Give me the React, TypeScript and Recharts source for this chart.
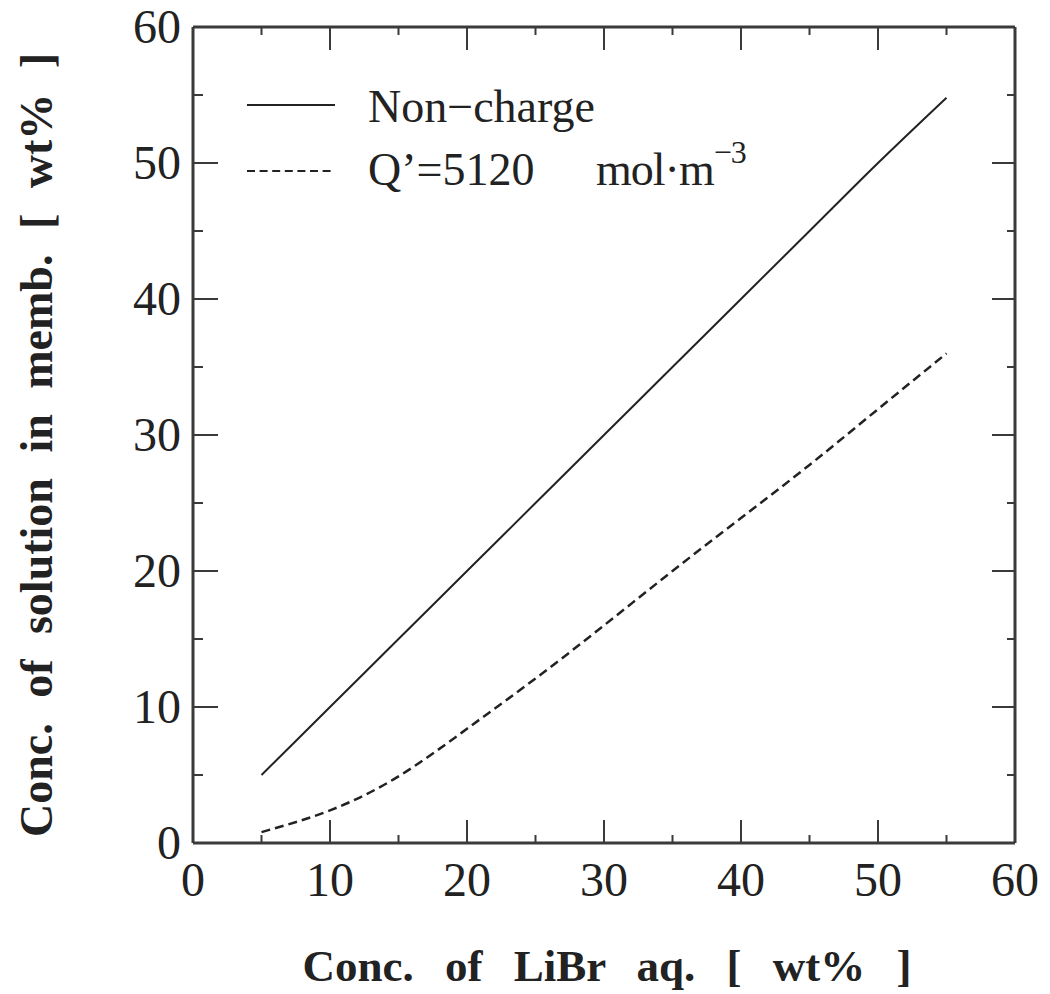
import { Legend, Line, LineChart, XAxis, YAxis } from "recharts";

const INK = "#222";
const FRAME = "#3a3a3a";
const FONT = "Liberation Serif, DejaVu Serif, serif";

// LiBr concentration in the bulk solution [wt%]
const CONC_LIBR = [5, 10, 15, 20, 25, 30, 35, 40, 45, 50, 55];
// concentration inside the membrane [wt%]
const NON_CHARGE = [5, 10, 15, 20, 25, 30, 35, 40, 45, 50, 54.8];
const CHARGED = [0.8, 2.4, 4.9, 8.4, 12.1, 16.0, 20.0, 23.9, 27.8, 31.9, 36.0];

const TICKS = [0, 5, 10, 15, 20, 25, 30, 35, 40, 45, 50, 55, 60];
const X_LABEL = "Conc. of LiBr aq. [ wt% ]";
const Y_LABEL = "Conc. of solution in memb. [ wt% ]";
const SERIES = ["Non−charge", "Q’=5120", "mol·m", "−3"];

const data = CONC_LIBR.map((c, i) => ({
  c,
  nonCharge: NON_CHARGE[i],
  charged: CHARGED[i],
}));

const MAJOR = 23;
const MINOR = 8;
const isMajor = (v: number) => v % 10 === 0;

function BottomTick({ x, y, payload }: any) {
  const major = isMajor(payload.value);
  return (
    <g>
      <line x1={x} y1={y} x2={x} y2={y - (major ? MAJOR : MINOR)} stroke={FRAME} strokeWidth={2} />
      {major && (
        <text x={x} y={y + 53} textAnchor="middle" fontSize={48} style={{ fontFamily: FONT }} fill={INK}>
          {payload.value}
        </text>
      )}
    </g>
  );
}

function TopTick({ x, y, payload }: any) {
  const len = isMajor(payload.value) ? MAJOR : MINOR;
  return <line x1={x} y1={y} x2={x} y2={y + len} stroke={FRAME} strokeWidth={2} />;
}

function LeftTick({ x, y, payload }: any) {
  const major = isMajor(payload.value);
  return (
    <g>
      <line x1={x} y1={y} x2={x + (major ? 25 : 10)} y2={y} stroke={FRAME} strokeWidth={2} />
      {major && (
        <text x={x - 12} y={y + 16} textAnchor="end" fontSize={48} style={{ fontFamily: FONT }} fill={INK}>
          {payload.value}
        </text>
      )}
    </g>
  );
}

function RightTick({ x, y, payload }: any) {
  const len = isMajor(payload.value) ? MAJOR : MINOR;
  return <line x1={x} y1={y} x2={x - len} y2={y} stroke={FRAME} strokeWidth={2} />;
}

function LegendBox() {
  const txt = { fontSize: 46, fill: INK, style: { fontFamily: FONT } };
  return (
    <svg width={520} height={130} style={{ overflow: "visible", fontFamily: FONT }}>
      <line x1={7} y1={25} x2={95} y2={25} stroke={INK} strokeWidth={2} />
      <text x={128} y={42} {...txt}>
        {SERIES[0]}
      </text>
      <line x1={7} y1={91} x2={95} y2={91} stroke={INK} strokeWidth={2} strokeDasharray="8 4.6" />
      <text x={128} y={105} {...txt}>
        {SERIES[1]}
      </text>
      <text x={356} y={105} {...txt} letterSpacing={-1}>
        {SERIES[2]}
        <tspan dy={-22} fontSize={32}>
          {SERIES[3]}
        </tspan>
      </text>
    </svg>
  );
}

const axisLine = { stroke: FRAME, strokeWidth: 3 };

export default function App() {
  return (
    <div style={{ position: "absolute", left: 0, top: 0, background: "#fff", fontFamily: FONT }}>
      <LineChart
        width={1050}
        height={994}
        data={data}
        margin={{ top: 26, right: 34, left: 133, bottom: 91 }}
      >
        <XAxis
          dataKey="c"
          type="number"
          domain={[0, 60]}
          ticks={TICKS}
          interval={0}
          height={60}
          tickSize={0}
          tickMargin={0}
          axisLine={axisLine}
          tick={<BottomTick />}
          label={{
            content: ({ viewBox }: any) => (
              <text
                x={viewBox.x + viewBox.width / 2 + 3}
                y={viewBox.y + 138}
                textAnchor="middle"
                fontSize={45}
                fontWeight="bold"
                style={{ fontFamily: FONT }}
                fill={INK}
                wordSpacing={20}
              >
                {X_LABEL}
              </text>
            ),
          }}
        />
        <XAxis
          xAxisId="top"
          dataKey="c"
          type="number"
          orientation="top"
          domain={[0, 60]}
          ticks={TICKS}
          interval={0}
          height={1}
          tickSize={0}
          tickMargin={0}
          axisLine={axisLine}
          tick={<TopTick />}
        />
        <YAxis
          type="number"
          domain={[0, 60]}
          ticks={TICKS}
          interval={0}
          width={60}
          tickSize={0}
          tickMargin={0}
          axisLine={axisLine}
          tick={<LeftTick />}
          label={{
            content: ({ viewBox }: any) => {
              const cx = viewBox.x - 81;
              const cy = viewBox.y + viewBox.height / 2 + 10;
              return (
                <text
                  transform={`translate(${cx},${cy}) rotate(-90)`}
                  textAnchor="middle"
                  fontSize={46}
                  fontWeight="bold"
                  style={{ fontFamily: FONT }}
                  fill={INK}
                  wordSpacing={14}
                >
                  {Y_LABEL}
                </text>
              );
            },
          }}
        />
        <YAxis
          yAxisId="right"
          orientation="right"
          type="number"
          domain={[0, 60]}
          ticks={TICKS}
          interval={0}
          width={1}
          tickSize={0}
          tickMargin={0}
          axisLine={axisLine}
          tick={<RightTick />}
        />
        <Legend
          layout="vertical"
          align="center"
          verticalAlign="middle"
          content={() => <LegendBox />}
          wrapperStyle={{ left: 240, top: 80, width: 520, height: 130 }}
        />
        <Line
          xAxisId="top"
          yAxisId="right"
          dataKey="nonCharge"
          name={SERIES[0]}
          type="monotone"
          stroke={INK}
          strokeWidth={2}
          dot={false}
          isAnimationActive={false}
        />
        <Line
          dataKey="charged"
          name={SERIES[1]}
          type="natural"
          stroke={INK}
          strokeWidth={2.5}
          strokeDasharray="9 5"
          dot={false}
          isAnimationActive={false}
        />
      </LineChart>
    </div>
  );
}
